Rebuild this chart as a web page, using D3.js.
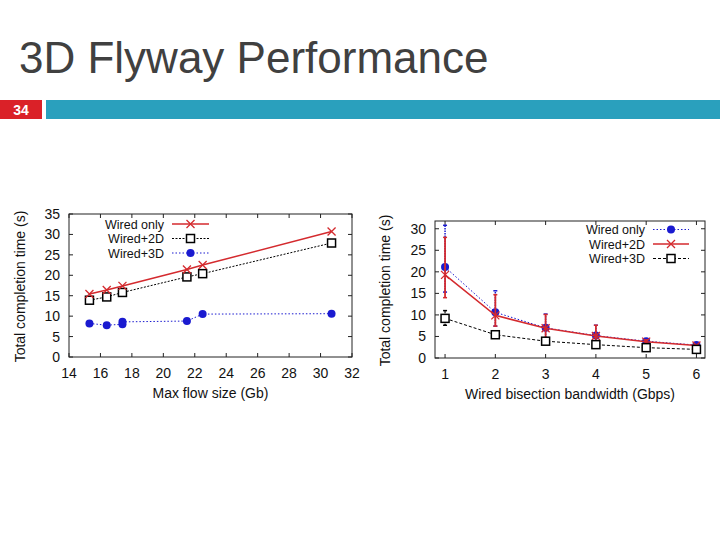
<!DOCTYPE html>
<html><head><meta charset="utf-8">
<script src="https://cdn.jsdelivr.net/npm/d3@7"></script>
<style>body{margin:0;background:#fff;} svg{display:block;font-family:"Liberation Sans",Arial,sans-serif;}</style>
</head><body>
<svg id="c" width="720" height="540"></svg>
<script>
// ---- data: left chart (Max flow size) ----
const leftTitleX = "Max flow size (Gb)";
const leftTitleY = "Total completion time (s)";
const leftXTicks = [14,16,18,20,22,24,26,28,30,32];
const leftYTicks = [0,5,10,15,20,25,30,35];
const leftSeriesNames = ["Wired only","Wired+2D","Wired+3D"];
const leftWiredOnlyX = [15.3,16.4,17.4,21.5,22.5,30.7];
const leftWiredOnlyY = [15.4,16.4,17.4,21.4,22.5,30.7];
const left2DX = [15.3,16.4,17.4,21.5,22.5,30.7];
const left2DY = [13.9,14.7,15.8,19.6,20.4,27.9];
const left3DX = [15.3,16.4,17.4,17.4,21.5,22.5,30.7];
const left3DY = [8.2,7.8,8.0,8.6,8.8,10.5,10.6];

// ---- data: right chart (Wired bisection bandwidth) ----
const rightTitleX = "Wired bisection bandwidth (Gbps)";
const rightTitleY = "Total completion time (s)";
const rightXTicks = [1,2,3,4,5,6];
const rightYTicks = [0,5,10,15,20,25,30];
const rightSeriesNames = ["Wired only","Wired+2D","Wired+3D"];
const bandwidth = [1,2,3,4,5,6];
const rWiredOnly = [21.1,10.6,7.0,5.2,3.9,3.0];
const rWiredOnlyLo = [15.3,7.4,4.2,3.2,3.4,2.6];
const rWiredOnlyHi = [30.8,15.6,10.2,7.6,4.3,3.3];
const r2D = [19.3,9.9,6.9,5.1,3.8,2.9];
const r2DLo = [14.0,7.4,4.1,3.0,3.4,2.6];
const r2DHi = [28.0,14.7,10.1,7.6,4.2,3.1];
const r3D = [9.2,5.4,3.9,3.1,2.4,2.0];
const r3DLo = [7.6,4.8,3.4,2.7,2.1,1.6];
const r3DHi = [11.0,6.0,4.4,3.5,2.8,2.4];

const RED="#d42a2e", BLUE="#1a1ad0", BLACK="#000";
const svg = d3.select("#c");

// header
svg.append("text").attr("x",19).attr("y",73).attr("font-size",44).attr("fill","#404040").text("3D Flyway Performance");
svg.append("rect").attr("x",0).attr("y",100).attr("width",42).attr("height",19).attr("fill","#da2128");
svg.append("text").attr("x",21).attr("y",115).attr("text-anchor","middle").attr("font-size",14).attr("font-weight","bold").attr("fill","#fff").text("34");
svg.append("rect").attr("x",46).attr("y",100).attr("width",674).attr("height",19).attr("fill","#2aa0bd");

function marker(g, type, x, y, color){
  if(type==="x"){
    const s=4;
    g.append("path").attr("d",`M${x-s},${y-s}L${x+s},${y+s}M${x-s},${y+s}L${x+s},${y-s}`).attr("stroke",color).attr("stroke-width",1.3).attr("fill","none");
  } else if(type==="sq"){
    g.append("rect").attr("x",x-4).attr("y",y-4).attr("width",8).attr("height",8).attr("fill","#fff").attr("stroke",color).attr("stroke-width",1.5);
  } else {
    g.append("circle").attr("cx",x).attr("cy",y).attr("r",4).attr("fill",color);
  }
}

function frame(g, x, y, xTicks, yTicks, titleX, titleY, titleYx){
  const [x0,x1]=x.range(), [y0,y1]=y.range();
  g.append("rect").attr("x",x0).attr("y",y1).attr("width",x1-x0).attr("height",y0-y1).attr("fill","none").attr("stroke","#222").attr("stroke-width",1);
  const tl=4;
  xTicks.forEach(t=>{
    const px=x(t);
    g.append("line").attr("x1",px).attr("x2",px).attr("y1",y0).attr("y2",y0-tl).attr("stroke","#222");
    g.append("line").attr("x1",px).attr("x2",px).attr("y1",y1).attr("y2",y1+tl).attr("stroke","#222");
    g.append("text").attr("x",px).attr("y",y0+21).attr("text-anchor","middle").attr("font-size",14).attr("fill","#111").text(t);
  });
  yTicks.forEach(t=>{
    const py=y(t);
    g.append("line").attr("x1",x0).attr("x2",x0+tl).attr("y1",py).attr("y2",py).attr("stroke","#222");
    g.append("line").attr("x1",x1).attr("x2",x1-tl).attr("y1",py).attr("y2",py).attr("stroke","#222");
    g.append("text").attr("x",x0-9).attr("y",py+5).attr("text-anchor","end").attr("font-size",14).attr("fill","#111").text(t);
  });
  g.append("text").attr("x",(x0+x1)/2).attr("y",y0+41).attr("text-anchor","middle").attr("font-size",14).attr("fill","#111").text(titleX);
  g.append("text").attr("transform",`translate(${titleYx},${(y0+y1)/2+1}) rotate(-90)`).attr("text-anchor","middle").attr("font-size",14).attr("fill","#111").text(titleY);
}

function series(g, xs, ys, x, y, color, dash, width, mtype){
  const pts = xs.map((v,i)=>[x(v),y(ys[i])]);
  g.append("path").attr("d",d3.line()(pts)).attr("fill","none").attr("stroke",color).attr("stroke-width",width).attr("stroke-dasharray",dash);
  pts.forEach(p=>marker(g,mtype,p[0],p[1],color));
}

function errbars(g, xs, lo, hi, x, y, color, w, dash){
  xs.forEach((v,i)=>{
    const px=x(v);
    g.append("line").attr("x1",px).attr("x2",px).attr("y1",y(lo[i])).attr("y2",y(hi[i])).attr("stroke",color).attr("stroke-width",w).attr("stroke-dasharray",dash);
    [lo[i],hi[i]].forEach(e=>g.append("line").attr("x1",px-2).attr("x2",px+2).attr("y1",y(e)).attr("y2",y(e)).attr("stroke",color).attr("stroke-width",1.5));
  });
}

function legend(g, items, tx, lx0, lx1, ys){
  items.forEach((it,i)=>{
    g.append("text").attr("x",tx).attr("y",ys[i]+4.5).attr("text-anchor","end").attr("font-size",12.5).attr("fill","#111").text(it.name);
    g.append("line").attr("x1",lx0).attr("x2",lx1).attr("y1",ys[i]).attr("y2",ys[i]).attr("stroke",it.color).attr("stroke-width",it.width).attr("stroke-dasharray",it.dash);
    marker(g,it.m,(lx0+lx1)/2,ys[i],it.color);
  });
}

// ---- left chart ----
{
  const g=svg.append("g");
  const x=d3.scaleLinear().domain([14,32]).range([69,352]);
  const y=d3.scaleLinear().domain([0,35]).range([357,214]);
  frame(g,x,y,leftXTicks,leftYTicks,leftTitleX,leftTitleY,25);
  series(g,left3DX,left3DY,x,y,BLUE,"1.5,2",1,"c");
  series(g,left2DX,left2DY,x,y,BLACK,"2,1.5",1,"sq");
  series(g,leftWiredOnlyX,leftWiredOnlyY,x,y,RED,null,1.5,"x");
  legend(g,[
    {name:leftSeriesNames[0],color:RED,width:1.5,dash:null,m:"x"},
    {name:leftSeriesNames[1],color:BLACK,width:1,dash:"2,1.5",m:"sq"},
    {name:leftSeriesNames[2],color:BLUE,width:1,dash:"1.5,2",m:"c"}
  ],164,172,209,[224,238.5,253]);
}

// ---- right chart ----
{
  const g=svg.append("g");
  const x=d3.scaleLinear().domain([0.8,6.17]).range([435,705]);
  const y=d3.scaleLinear().domain([0,31.8]).range([358,221]);
  frame(g,x,y,rightXTicks,rightYTicks,rightTitleX,rightTitleY,390);
  errbars(g,bandwidth,rWiredOnlyLo,rWiredOnlyHi,x,y,BLUE,1.5,"1.5,1");
  series(g,bandwidth,rWiredOnly,x,y,BLUE,"1.5,2",1,"c");
  errbars(g,bandwidth,r2DLo,r2DHi,x,y,RED,1.8,null);
  series(g,bandwidth,r2D,x,y,RED,null,1.5,"x");
  errbars(g,bandwidth,r3DLo,r3DHi,x,y,BLACK,1.5,"1.5,1");
  series(g,bandwidth,r3D,x,y,BLACK,"3,2",1,"sq");
  legend(g,[
    {name:rightSeriesNames[0],color:BLUE,width:1,dash:"1.5,2",m:"c"},
    {name:rightSeriesNames[1],color:RED,width:1.5,dash:null,m:"x"},
    {name:rightSeriesNames[2],color:BLACK,width:1,dash:"3,2",m:"sq"}
  ],645,653,689,[229.5,244,258.5]);
}
</script>
</body></html>
